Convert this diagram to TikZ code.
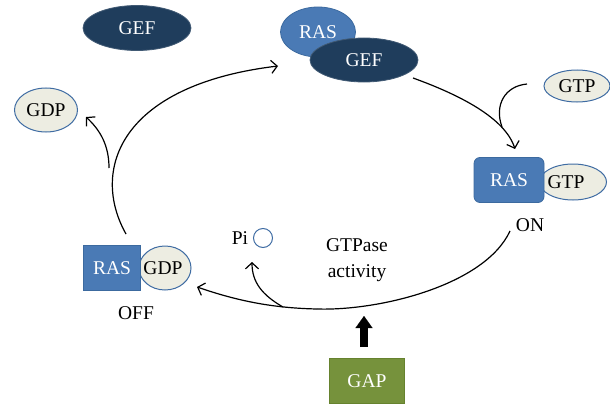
\documentclass[tikz,border=0pt]{standalone}
\usepackage{fontspec}
\setmainfont{Liberation Serif}
\usetikzlibrary{arrows.meta,shapes.geometric}
\definecolor{navy}{HTML}{1F3D5C}
\definecolor{rasblue}{HTML}{4A7AB5}
\definecolor{rasedge}{HTML}{3C6A9F}
\definecolor{beige}{HTML}{EDEDE2}
\definecolor{beigeedge}{HTML}{3F6CA3}
\definecolor{gapgreen}{HTML}{76923C}
\definecolor{gapedge}{HTML}{66822E}
\begin{document}
\begin{tikzpicture}[x=1pt,y=-1pt,
  every node/.style={font=\fontsize{19.5}{26}\selectfont, inner sep=0pt},
  navyell/.style={ellipse, fill=navy, draw=navy!85!white, line width=0.8pt, text=white},
  blueell/.style={ellipse, fill=rasblue, draw=rasedge, line width=0.8pt, text=white},
  beigeell/.style={ellipse, fill=beige, draw=beigeedge, line width=1pt, text=black},
  rasbox/.style={rectangle, fill=rasblue, draw=rasedge, line width=0.8pt, text=white},
  gapbox/.style={rectangle, fill=gapgreen, draw=gapedge, line width=0.8pt, text=white},
  conn/.style={line width=1.2pt, -{Straight Barb[length=6pt,width=13pt,line width=1.2pt]}},
  plain/.style={line width=1.2pt},
  bigarrow/.style={line width=8pt, -{Triangle[length=12pt,width=17pt,line width=0.1pt]}}
]
\useasboundingbox (0,0) rectangle (610,404);

% top left GEF
\node[navyell, minimum width=108, minimum height=45] (gefa) at (137,28) {GEF};
% RAS-GEF complex
\node[blueell, minimum width=75, minimum height=50] (rasa) at (318,32) {RAS};
\node[navyell, minimum width=108, minimum height=44] (gefb) at (364,60) {GEF};
% free GDP
\node[beigeell, minimum width=63, minimum height=44] (gdpa) at (46,110) {GDP};
% free GTP
\node[beigeell, minimum width=66, minimum height=32] (gtpa) at (577,86) {GTP};
% RAS-GTP (ON)
\node[beigeell, minimum width=67, minimum height=36] (gtpb) at (573,182) {};
\node (gtpbt) at (566,182) {GTP};
\node[rasbox, rounded corners=6pt, minimum width=70, minimum height=45] (rasb) at (509,180) {RAS};
\node (on) at (530,225) {ON};
% RAS-GDP (OFF)
\node[beigeell, minimum width=52, minimum height=44] (gdpb) at (165,268) {};
\node (gdpbt) at (163,268) {GDP};
\node[rasbox, minimum width=57, minimum height=45] (rasc) at (112,268) {RAS};
\node (off) at (136,313) {OFF};
% Pi
\node (pit) at (240,238) {Pi};
\node[circle, draw=beigeedge, line width=1pt, minimum size=19] (pi) at (263,238) {};
% GTPase activity
\node[align=center] (gtpase) at (357,260) {GTPase\\activity};
% GAP
\node[gapbox, minimum width=75, minimum height=45] (gap) at (367,381) {GAP};

% coordinates
\coordinate (c1s) at (126,234);
\coordinate (c1e) at (278,66);
\coordinate (bra) at (109,168);
\coordinate (brgdp) at (86,117);
\coordinate (c2s) at (413,78);
\coordinate (c2e) at (515,149);
\coordinate (c3s) at (527,84);
\coordinate (c3e) at (502,127);
\coordinate (c4s) at (510,231);
\coordinate (c4m) at (317,309);
\coordinate (c4e) at (197,287);
\coordinate (brp) at (283,307);
\coordinate (pie) at (252,262);
\coordinate (gapbase) at (364,347);
\coordinate (gapup) at (364,316);

% connectors
\draw[conn] (c1s) .. controls (90,170) and (120,85) .. (c1e);
\draw[conn] (bra) .. controls (109,145) and (100,130) .. (brgdp);
\draw[conn] (c2s) .. controls (460,95) and (505,118) .. (c2e);
\draw[plain] (c3s) .. controls (505,86) and (494,105) .. (c3e);
\draw[plain] (c4s) .. controls (485,285) and (380,311) .. (c4m);
\draw[conn] (c4m) .. controls (270,308) and (235,300) .. (c4e);
\draw[conn] (brp) .. controls (262,295) and (252,282) .. (pie);
\draw[bigarrow] (gapbase) -- (gapup);
\end{tikzpicture}
\end{document}
